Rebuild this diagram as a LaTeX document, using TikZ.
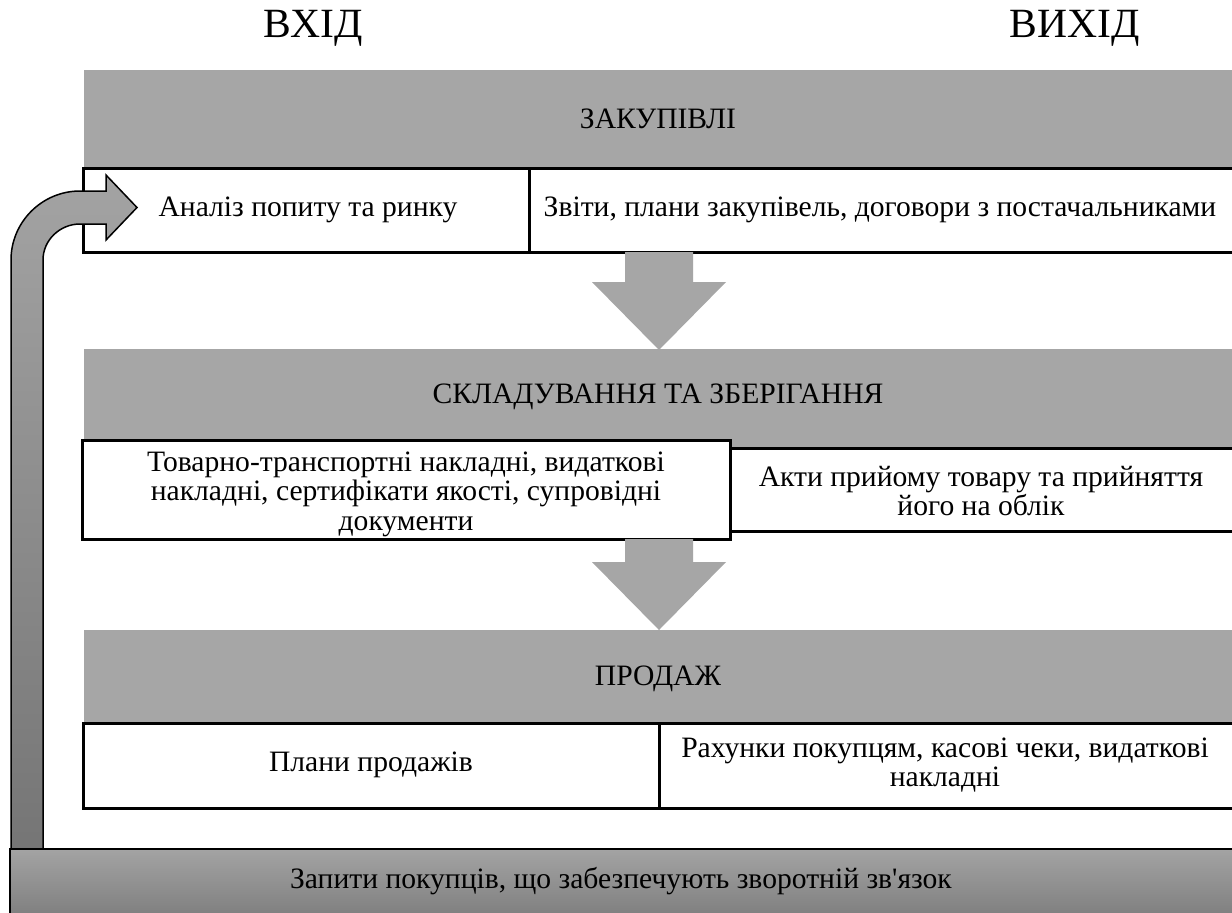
\documentclass[tikz,border=0pt]{standalone}
\usepackage{fontspec}
\setmainfont{Liberation Serif}

\definecolor{bandgray}{HTML}{A6A6A6}

\begin{document}
\begin{tikzpicture}[x=0.5pt, y=-0.5pt,
        band/.style = {fill=bandgray},
        cell/.style = {draw=black, line width=1.5pt, fill=white},
        txt/.style = {font = {\fontsize{14.8}{14.8}\selectfont}, black, align=center},
        head/.style = {font = {\fontsize{20.8}{24}\selectfont}, black}]
        \useasboundingbox (0,0) rectangle (1232,912);
        \fill[white] (0,0) rectangle (1232,912);

        \node[head] (vhid) at (313, 28) {ВХІД};
        \node[head] (vyhid) at (1075, 28) {ВИХІД};

        % закупівлі
        \fill[band] (84,70) rectangle (1232,167);
        \node[txt] (zakup) at (658, 119) {ЗАКУПІВЛІ};
        \draw[cell] (83,168) rectangle (529,252);
        \draw[cell] (529,168) rectangle (1240,252);
        \node[txt] (analiz) at (308, 210) {Аналіз попиту та ринку};
        \node[txt] (zvity) at (880, 210) {Звіти, плани закупівель, договори з постачальниками};
        \fill[band] (625,252) -- (693,252) -- (693,282) -- (726,282) -- (659,350) -- (592,282) -- (625,282) -- cycle;

        % складування
        \fill[band] (84,349) rectangle (1232,448);
        \node[txt] (sklad) at (658, 397) {СКЛАДУВАННЯ ТА ЗБЕРІГАННЯ};
        \draw[cell] (730,448) rectangle (1240,531);
        \draw[cell] (82,440) rectangle (730,539);
        \node[txt] (nakladni) at (406, 494) {Товарно-транспортні накладні, видаткові\\накладні, сертифікати якості, супровідні\\документи};
        \node[txt] (akty) at (981, 491) {Акти прийому товару та прийняття\\його на облік};
        \fill[band] (625,539) -- (693,539) -- (693,562) -- (726,562) -- (659,630) -- (592,562) -- (625,562) -- cycle;

        % продаж
        \fill[band] (84,630) rectangle (1232,723);
        \node[txt] (prodazh) at (658, 679) {ПРОДАЖ};
        \draw[cell] (83,723) rectangle (659,808);
        \draw[cell] (659,723) rectangle (1240,808);
        \node[txt] (plany) at (371, 765) {Плани продажів};
        \node[txt] (rahunky) at (945, 765) {Рахунки покупцям, касові чеки, видаткові\\накладні};

        % зворотній зв'язок
        \shade[top color=black!36, bottom color=black!54, draw=black, line width=0.75pt]
            (11,849) -- (11,260) .. controls (11,222) and (42,191) .. (80,191) -- (106,191)
            -- (106,175) -- (137,207.5) -- (106,240) -- (106,224) -- (80,224)
            .. controls (60,224) and (43,240) .. (43,260) -- (43,849) -- cycle;
        \shade[top color=black!36, bottom color=black!51, draw=black, line width=0.75pt]
            (10,849) rectangle (1240,920);
        \node[txt] (zapyty) at (621, 881) {Запити покупців, що забезпечують зворотній зв\textquotesingle язок};
\end{tikzpicture}
\end{document}
